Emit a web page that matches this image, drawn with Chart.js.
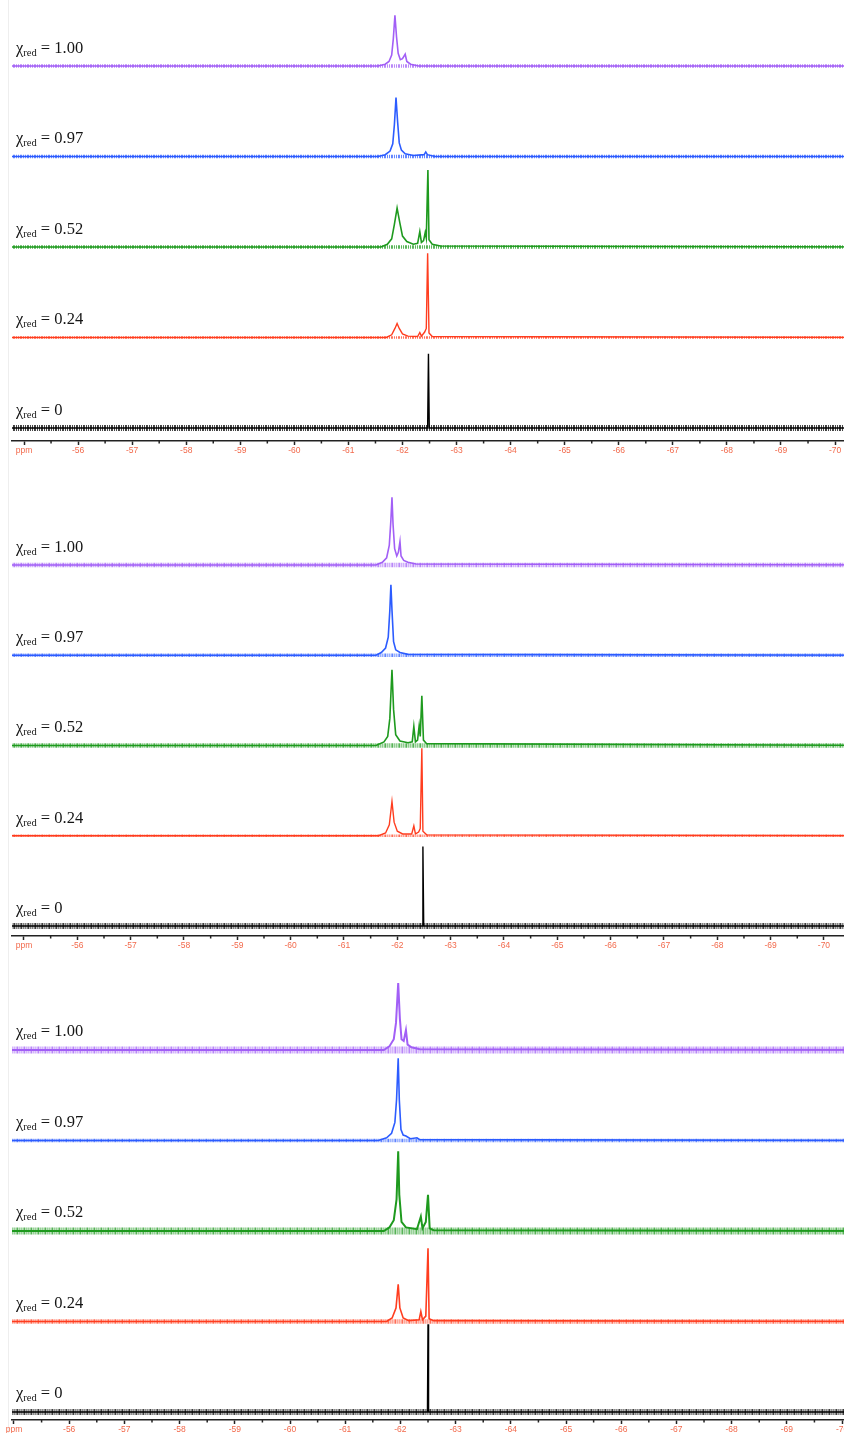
<!DOCTYPE html>
<html>
<head>
<meta charset="utf-8">
<script src="https://cdn.jsdelivr.net/npm/chart.js@4.4.1/dist/chart.umd.min.js"></script>
<style>
  html, body { margin: 0; padding: 0; background: #fff; overflow: hidden; }
  #wrap { position: relative; width: 844px; height: 1433px; overflow: hidden; }
  .panel { position: absolute; left: 0; }
  #edge { position: absolute; left: 8px; top: 0; width: 1px; height: 1433px; background: #eeeeee; }
</style>
</head>
<body>
<div id="wrap">
  <div id="edge"></div>
  <canvas id="c1" class="panel" width="900" height="461" style="top:0px"></canvas>
  <canvas id="c2" class="panel" width="900" height="494" style="top:462px"></canvas>
  <canvas id="c3" class="panel" width="900" height="484" style="top:956px"></canvas>
</div>
<script>
// chi_red values, top to bottom
const fractions = ['1.00', '0.97', '0.52', '0.24', '0'];
const colors = ['#a25ff6', '#2c5cff', '#1e9a1e', '#ff3d1f', '#000000'];
const majorTicks = [-55, -56, -57, -58, -59, -60, -61, -62, -63, -64, -65, -66, -67, -68, -69, -70];
const minorTicks = [-55.5, -56.5, -57.5, -58.5, -59.5, -60.5, -61.5, -62.5, -63.5, -64.5, -65.5, -66.5, -67.5, -68.5, -69.5, -70.5];

// spectra: [ppm, intensity], intensity in units of trace spacing
const p1Purple = [[-54.5,0],[-61.55,0],[-61.68,0.02],[-61.75,0.05],[-61.8,0.12],[-61.83,0.3],[-61.86,0.56],[-61.89,0.32],[-61.92,0.14],[-61.96,0.07],[-62.0,0.08],[-62.05,0.13],[-62.08,0.05],[-62.15,0.02],[-62.3,0],[-71.6,0]];
const p1Blue = [[-54.5,0],[-61.55,0],[-61.68,0.02],[-61.77,0.06],[-61.82,0.14],[-61.85,0.35],[-61.88,0.65],[-61.91,0.38],[-61.94,0.15],[-61.98,0.07],[-62.05,0.03],[-62.2,0.01],[-62.4,0.02],[-62.43,0.05],[-62.46,0.02],[-62.6,0],[-71.6,0]];
const p1Green = [[-54.5,0],[-61.6,0],[-61.72,0.03],[-61.8,0.09],[-61.85,0.25],[-61.9,0.43],[-61.95,0.27],[-62.0,0.12],[-62.08,0.06],[-62.2,0.03],[-62.28,0.04],[-62.32,0.17],[-62.35,0.05],[-62.39,0.07],[-62.42,0.16],[-62.44,0.1],[-62.47,0.85],[-62.49,0.08],[-62.55,0.03],[-62.7,0.01],[-71.6,0]];
const p1Red = [[-54.5,0],[-61.7,0],[-61.8,0.03],[-61.86,0.1],[-61.9,0.155],[-61.94,0.1],[-62.0,0.04],[-62.1,0.015],[-62.28,0.01],[-62.32,0.055],[-62.35,0.015],[-62.41,0.06],[-62.44,0.1],[-62.465,0.93],[-62.49,0.05],[-62.55,0.01],[-71.6,0]];
const p1Black = [[-54.5,0],[-62.465,0],[-62.48,0.82],[-62.495,0],[-71.6,0]];

const p2Purple = [[-54.5,0],[-61.6,0],[-61.72,0.03],[-61.8,0.08],[-61.85,0.22],[-61.88,0.5],[-61.9,0.75],[-61.92,0.45],[-61.95,0.18],[-61.99,0.1],[-62.02,0.14],[-62.05,0.26],[-62.07,0.1],[-62.12,0.05],[-62.2,0.03],[-62.35,0.01],[-71.6,0]];
const p2Blue = [[-54.5,0],[-61.6,0],[-61.7,0.03],[-61.78,0.08],[-61.83,0.2],[-61.86,0.5],[-61.88,0.78],[-61.9,0.5],[-61.93,0.15],[-61.97,0.06],[-62.05,0.03],[-62.2,0.01],[-71.6,0]];
const p2Green = [[-54.5,0],[-61.6,0],[-61.75,0.04],[-61.82,0.1],[-61.86,0.3],[-61.9,0.84],[-61.93,0.4],[-61.97,0.12],[-62.05,0.05],[-62.2,0.03],[-62.28,0.04],[-62.31,0.21],[-62.34,0.04],[-62.38,0.06],[-62.41,0.22],[-62.43,0.1],[-62.46,0.55],[-62.49,0.06],[-62.55,0.02],[-71.6,0]];
const p2Red = [[-54.5,0],[-61.65,0],[-61.78,0.03],[-61.85,0.12],[-61.9,0.38],[-61.94,0.15],[-62.0,0.05],[-62.1,0.02],[-62.27,0.02],[-62.31,0.11],[-62.34,0.02],[-62.4,0.04],[-62.43,0.08],[-62.46,0.97],[-62.48,0.05],[-62.55,0.01],[-71.6,0]];
const p2Black = [[-54.5,0],[-62.465,0],[-62.48,0.88],[-62.495,0],[-71.6,0]];

const p3Purple = [[-54.5,0],[-61.7,0],[-61.8,0.04],[-61.88,0.12],[-61.92,0.3],[-61.96,0.74],[-61.99,0.35],[-62.02,0.12],[-62.06,0.1],[-62.1,0.22],[-62.13,0.06],[-62.2,0.03],[-62.35,0.01],[-71.6,0]];
const p3Blue = [[-54.5,0],[-61.6,0],[-61.75,0.03],[-61.84,0.08],[-61.9,0.2],[-61.93,0.45],[-61.96,0.91],[-61.98,0.45],[-62.01,0.12],[-62.05,0.06],[-62.1,0.05],[-62.18,0.02],[-62.3,0.03],[-62.35,0.01],[-71.6,0]];
const p3Green = [[-54.5,0],[-61.7,0],[-61.8,0.04],[-61.88,0.12],[-61.93,0.35],[-61.96,0.88],[-61.98,0.4],[-62.02,0.1],[-62.1,0.04],[-62.3,0.02],[-62.37,0.16],[-62.4,0.03],[-62.46,0.1],[-62.5,0.4],[-62.53,0.03],[-62.6,0.01],[-71.6,0]];
const p3Red = [[-54.5,0],[-61.75,0],[-61.85,0.04],[-61.92,0.15],[-61.96,0.41],[-61.99,0.15],[-62.05,0.04],[-62.15,0.01],[-62.34,0.02],[-62.37,0.11],[-62.4,0.02],[-62.46,0.06],[-62.5,0.81],[-62.52,0.03],[-62.6,0.01],[-71.6,0]];
const p3Black = [[-54.5,0],[-62.49,0],[-62.5,0.97],[-62.51,0],[-71.6,0]];

// layout per panel (ppm range of the plot area, y range, offset of the lowest trace)
const panels = [
  { id: 'c1', spectra: [p1Purple, p1Blue, p1Green, p1Red, p1Black], xLeft: -54.778, xRight: -71.201, yMax: 4.873, base: 0.144, labelGap: 13,
    core: [1.6, 1.6, 1.6, 1.4, 1.4], band: [3.5, 3.5, 3.5, 2.5, 6] },
  { id: 'c2', spectra: [p2Purple, p2Blue, p2Green, p2Red, p2Black], xLeft: -54.775, xRight: -71.426, yMax: 5.252, base: 0.111, labelGap: 13,
    core: [1.6, 1.6, 1.6, 1.4, 1.4], band: [4.5, 3.5, 4.5, 2.5, 6] },
  { id: 'c3', spectra: [p3Purple, p3Blue, p3Green, p3Red, p3Black], xLeft: -54.964, xRight: -71.05, yMax: 5.127, base: 0.088, labelGap: 14,
    core: [2, 1.6, 2, 1.6, 1.4], band: [7, 3.5, 7, 4.5, 6] }
];

const withAlpha = (hex, a) => {
  const n = parseInt(hex.slice(1), 16);
  return `rgba(${(n >> 16) & 255},${(n >> 8) & 255},${n & 255},${a})`;
};

const labelPlugin = {
  id: 'chiLabels',
  afterDatasetsDraw(chart, args, opts) {
    const ctx = chart.ctx;
    const y = chart.scales.y;
    ctx.save();
    ctx.fillStyle = '#151515';
    ctx.textBaseline = 'alphabetic';
    opts.offsets.forEach((off, i) => {
      const py = y.getPixelForValue(off) - opts.gap;
      let px = 16;
      ctx.font = '16.5px "Liberation Serif", "DejaVu Serif", serif';
      ctx.fillText('\u03c7', px, py);
      px += ctx.measureText('\u03c7').width;
      ctx.font = '10.5px "Liberation Serif", "DejaVu Serif", serif';
      ctx.fillText('red', px, py + 3);
      px += ctx.measureText('red').width;
      ctx.font = '16.5px "Liberation Serif", "DejaVu Serif", serif';
      ctx.fillText(' = ' + fractions[i], px, py);
    });
    ctx.restore();
  }
};

const minorTickPlugin = {
  id: 'minorTicks',
  afterDraw(chart) {
    const ctx = chart.ctx;
    const x = chart.scales.x;
    ctx.save();
    ctx.strokeStyle = '#222';
    ctx.lineWidth = 1.5;
    minorTicks.forEach(v => {
      const px = x.getPixelForValue(v);
      ctx.beginPath();
      ctx.moveTo(px, x.top);
      ctx.lineTo(px, x.top + 2.5);
      ctx.stroke();
    });
    ctx.restore();
  }
};

panels.forEach(p => {
  const offsets = p.spectra.map((s, i) => p.base + (p.spectra.length - 1 - i));
  const datasets = [];
  p.spectra.forEach((s, i) => {
    // noise band along the baseline
    datasets.push({
      data: [{ x: -54.5, y: offsets[i] }, { x: -71.6, y: offsets[i] }],
      borderColor: withAlpha(colors[i], 0.75),
      borderWidth: p.band[i],
      borderDash: [1, 1, 2, 1, 1, 1],
      borderCapStyle: 'butt'
    });
    datasets.push({
      data: s.map(pt => ({ x: pt[0], y: offsets[i] + pt[1] })),
      borderColor: colors[i],
      borderWidth: p.core[i]
    });
  });

  new Chart(document.getElementById(p.id), {
    type: 'line',
    data: { datasets },
    plugins: [labelPlugin, minorTickPlugin],
    options: {
      responsive: false,
      animation: false,
      parsing: false,
      layout: { padding: { left: 12, right: 0, top: 0, bottom: 0 } },
      elements: { point: { radius: 0 }, line: { tension: 0 } },
      plugins: {
        legend: { display: false },
        tooltip: { enabled: false },
        chiLabels: { offsets, gap: p.labelGap }
      },
      scales: {
        x: {
          type: 'linear',
          reverse: true,
          min: p.xRight,
          max: p.xLeft,
          afterBuildTicks: s => { s.ticks = majorTicks.map(v => ({ value: v })); },
          afterFit: s => { s.height = 20; },
          border: { display: true, color: '#222', width: 1.5 },
          grid: { display: true, drawOnChartArea: false, drawTicks: true, tickLength: 4, tickColor: '#222', tickWidth: 1.5 },
          ticks: {
            autoSkip: false,
            maxRotation: 0,
            padding: 1,
            color: '#f26a4c',
            font: { family: '"Liberation Sans", Arial, sans-serif', size: 8.5 },
            callback: v => (v === -55 ? 'ppm' : String(v))
          }
        },
        y: { type: 'linear', display: false, min: 0, max: p.yMax }
      }
    }
  });
});
</script>
</body>
</html>
